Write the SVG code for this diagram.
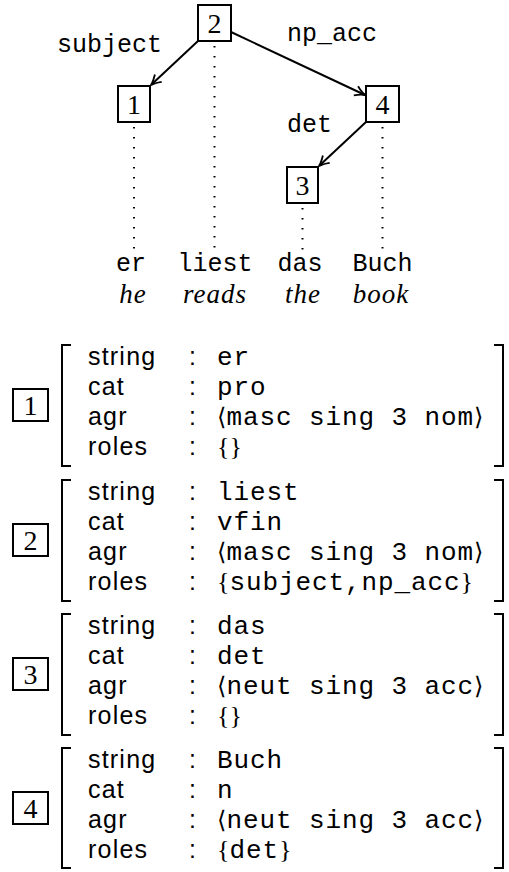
<svg xmlns="http://www.w3.org/2000/svg" width="509" height="872" viewBox="0 0 509 872">
<defs>
<style>
.box{fill:#fff;stroke:#000;stroke-width:2}
.num{font-family:"Liberation Serif",serif;font-size:28px;text-anchor:middle}
.tt{font-family:"Liberation Mono",monospace;font-size:25px}
.tv{font-family:"Liberation Mono",monospace;font-size:26px;letter-spacing:0.9px}
.it{font-family:"Liberation Serif",serif;font-style:italic;font-size:27px;text-anchor:middle;letter-spacing:1px}
.lab{font-family:"Liberation Sans",sans-serif;font-size:25px;letter-spacing:1.2px}
.sym{font-family:"DejaVu Serif",serif;font-size:24px}
.br{font-family:"Liberation Serif",serif;font-size:26px}
.edge{stroke:#000;stroke-width:2;fill:none}
.dot{stroke:#000;stroke-width:2;stroke-dasharray:1.5 8.5;fill:none}
.brk{stroke:#000;stroke-width:2;fill:none}
</style>
<marker id="ah" markerUnits="userSpaceOnUse" markerWidth="16" markerHeight="16" viewBox="-12 -8 14 16" refX="0" refY="0" orient="auto">
<path d="M-10,-5 Q-4,-1 0,0 Q-4,1 -10,5" fill="none" stroke="#000" stroke-width="1.8"/>
</marker>
</defs>
<rect width="509" height="872" fill="#fff"/>

<g id="connectors">
<line class="edge" x1="198" y1="41" x2="151" y2="85" marker-end="url(#ah)"/>
<line class="edge" x1="231" y1="32" x2="365" y2="95" marker-end="url(#ah)"/>
<line class="edge" x1="366" y1="122" x2="319" y2="166" marker-end="url(#ah)"/>
<line class="dot" x1="134" y1="127" x2="134" y2="250"/>
<line class="dot" x1="214.5" y1="46" x2="214.5" y2="252"/>
<line class="dot" x1="302.5" y1="208" x2="302.5" y2="252"/>
<line class="dot" x1="382.5" y1="127" x2="382.5" y2="252"/>
<text class="tt" x="57" y="52">subject</text>
<text class="tt" x="287" y="41">np_acc</text>
<text class="tt" x="287" y="132">det</text>
</g>

<g id="node2"><rect class="box" x="198" y="5" width="33" height="36"/><text class="num" x="214.5" y="33">2</text></g>
<g id="node1"><rect class="box" x="118" y="86" width="32" height="36"/><text class="num" x="134" y="114">1</text></g>
<g id="node4"><rect class="box" x="366" y="86" width="33" height="36"/><text class="num" x="382.5" y="114">4</text></g>
<g id="node3"><rect class="box" x="287" y="167" width="31" height="36"/><text class="num" x="302.5" y="195">3</text></g>

<g id="words">
<text class="tt" x="131" y="271" text-anchor="middle">er</text>
<text class="tt" x="215" y="271" text-anchor="middle">liest</text>
<text class="tt" x="300" y="271" text-anchor="middle">das</text>
<text class="tt" x="382.5" y="271" text-anchor="middle">Buch</text>
<text class="it" x="133" y="303">he</text>
<text class="it" x="215" y="303">reads</text>
<text class="it" x="303" y="303">the</text>
<text class="it" x="381" y="303">book</text>
</g>

<g id="fs1" transform="translate(0,345)">
<rect class="box" x="13" y="44" width="35" height="32"/><text class="num" x="30.5" y="70">1</text>
<path class="brk" d="M71,0 H62 V121 H71 M494,0 H503 V121 H494"/>
<text class="lab" x="88" y="20">string</text><text class="lab" x="88" y="50">cat</text><text class="lab" x="88" y="80">agr</text><text class="lab" x="88" y="110">roles</text>
<text class="lab" x="189" y="20">:</text><text class="lab" x="189" y="50">:</text><text class="lab" x="189" y="80">:</text><text class="lab" x="189" y="110">:</text>
<text class="tv" x="217" y="20">er</text>
<text class="tv" x="217" y="50">pro</text>
<text x="217" y="80"><tspan class="sym">⟨</tspan><tspan class="tv">masc sing 3 nom</tspan><tspan class="sym">⟩</tspan></text>
<text x="217" y="110"><tspan class="br">{}</tspan></text>
</g>

<g id="fs2" transform="translate(0,480)">
<rect class="box" x="13" y="44" width="35" height="32"/><text class="num" x="30.5" y="70">2</text>
<path class="brk" d="M71,0 H62 V121 H71 M494,0 H503 V121 H494"/>
<text class="lab" x="88" y="20">string</text><text class="lab" x="88" y="50">cat</text><text class="lab" x="88" y="80">agr</text><text class="lab" x="88" y="110">roles</text>
<text class="lab" x="189" y="20">:</text><text class="lab" x="189" y="50">:</text><text class="lab" x="189" y="80">:</text><text class="lab" x="189" y="110">:</text>
<text class="tv" x="217" y="20">liest</text>
<text class="tv" x="217" y="50">vfin</text>
<text x="217" y="80"><tspan class="sym">⟨</tspan><tspan class="tv">masc sing 3 nom</tspan><tspan class="sym">⟩</tspan></text>
<text x="217" y="110"><tspan class="br">{</tspan><tspan class="tv">subject,np_acc</tspan><tspan class="br">}</tspan></text>
</g>

<g id="fs3" transform="translate(0,614)">
<rect class="box" x="13" y="44" width="35" height="32"/><text class="num" x="30.5" y="70">3</text>
<path class="brk" d="M71,0 H62 V121 H71 M494,0 H503 V121 H494"/>
<text class="lab" x="88" y="20">string</text><text class="lab" x="88" y="50">cat</text><text class="lab" x="88" y="80">agr</text><text class="lab" x="88" y="110">roles</text>
<text class="lab" x="189" y="20">:</text><text class="lab" x="189" y="50">:</text><text class="lab" x="189" y="80">:</text><text class="lab" x="189" y="110">:</text>
<text class="tv" x="217" y="20">das</text>
<text class="tv" x="217" y="50">det</text>
<text x="217" y="80"><tspan class="sym">⟨</tspan><tspan class="tv">neut sing 3 acc</tspan><tspan class="sym">⟩</tspan></text>
<text x="217" y="110"><tspan class="br">{}</tspan></text>
</g>

<g id="fs4" transform="translate(0,748)">
<rect class="box" x="13" y="44" width="35" height="32"/><text class="num" x="30.5" y="70">4</text>
<path class="brk" d="M71,0 H62 V120 H71 M494,0 H503 V120 H494"/>
<text class="lab" x="88" y="20">string</text><text class="lab" x="88" y="50">cat</text><text class="lab" x="88" y="80">agr</text><text class="lab" x="88" y="110">roles</text>
<text class="lab" x="189" y="20">:</text><text class="lab" x="189" y="50">:</text><text class="lab" x="189" y="80">:</text><text class="lab" x="189" y="110">:</text>
<text class="tv" x="217" y="20">Buch</text>
<text class="tv" x="217" y="50">n</text>
<text x="217" y="80"><tspan class="sym">⟨</tspan><tspan class="tv">neut sing 3 acc</tspan><tspan class="sym">⟩</tspan></text>
<text x="217" y="110"><tspan class="br">{</tspan><tspan class="tv">det</tspan><tspan class="br">}</tspan></text>
</g>
</svg>
